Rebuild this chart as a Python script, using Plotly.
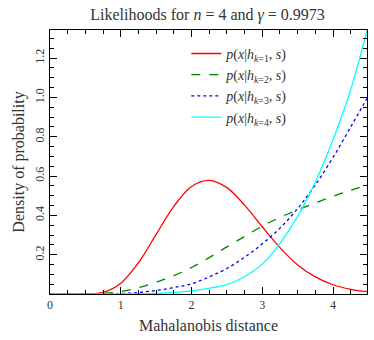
"""Likelihood curves p(x|h_k, s) for n = 4, gamma = 0.9973."""

import plotly.graph_objects as go

TITLE = "Likelihoods for <i>n</i> = 4 and <i>γ</i> = 0.9973"
FONT = "Liberation Serif"

# Mahalanobis distance sample points
X_VALUES = [0.0, 0.25, 0.5, 0.75, 1.0, 1.25, 1.5, 1.75, 2.0, 2.25,
            2.5, 2.75, 3.0, 3.25, 3.5, 3.75, 4.0, 4.25, 4.48]

K1_VALUES = [0.0, 0.0, 0.001, 0.008, 0.055, 0.159, 0.303, 0.446, 0.547, 0.578,
             0.541, 0.452, 0.342, 0.236, 0.148, 0.087, 0.047, 0.024, 0.012]
K2_VALUES = [0.0, 0.0, 0.0, 0.003, 0.012, 0.032, 0.06, 0.093, 0.135, 0.185,
             0.24, 0.293, 0.345, 0.39, 0.428, 0.463, 0.497, 0.528, 0.555]
K3_VALUES = [0.0, 0.0, 0.0, 0.0, 0.002, 0.008, 0.018, 0.033, 0.052, 0.087,
             0.13, 0.187, 0.255, 0.335, 0.435, 0.555, 0.695, 0.85, 0.995]
K4_VALUES = [0.0, 0.0, 0.0, 0.0, 0.0, 0.001, 0.003, 0.008, 0.016, 0.029,
             0.048, 0.088, 0.152, 0.258, 0.395, 0.57, 0.785, 1.04, 1.34]

SERIES = [
    ("1", K1_VALUES, "#ff0000", "solid"),
    ("2", K2_VALUES, "#008000", "dash"),
    ("3", K3_VALUES, "#0000ff", "dot"),
    ("4", K4_VALUES, "#00ffff", "solid"),
]

X_TICKS = [0, 1, 2, 3, 4]
Y_TICKS = [0.2, 0.4, 0.6, 0.8, 1.0, 1.2]
X_MAX = 4.48
Y_MAX = 1.343
TEXT_COLOR = "#333333"

fig = go.Figure()
for k, values, color, dash in SERIES:
    fig.add_trace(
        go.Scatter(
            x=X_VALUES,
            y=values,
            mode="lines",
            line=dict(color=color, width=1.3, dash=dash, shape="spline", smoothing=1.0),
            name=f"<i>p</i>(<i>x</i>|<i>h</i><sub><i>k</i>={k}</sub>, <i>s</i>)",
        )
    )

axis_common = dict(
    showline=True,
    linecolor="black",
    mirror="allticks",
    ticks="inside",
    ticklen=7,
    tickwidth=1,
    tickcolor="black",
    showgrid=False,
    zeroline=False,
    tickfont=dict(family=FONT, size=12, color=TEXT_COLOR),
)

# explicit `range` dropped the ticks, so clip the autorange instead
fig.update_xaxes(
    **axis_common,
    autorange=True,
    autorangeoptions=dict(clipmin=0, clipmax=X_MAX),
    tickvals=X_TICKS,
    minor=dict(dtick=0.25, ticks="inside", ticklen=4, tickcolor="black", showgrid=False),
    title=dict(text="Mahalanobis distance", font=dict(family=FONT, size=16, color=TEXT_COLOR), standoff=8),
)
fig.update_yaxes(
    **axis_common,
    autorange=True,
    autorangeoptions=dict(clipmin=0, clipmax=Y_MAX),
    tickvals=Y_TICKS,
    ticktext=[f"{v:.1f}" for v in Y_TICKS],
    tickangle=-90,
    minor=dict(dtick=0.05, ticks="inside", ticklen=4, tickcolor="black", showgrid=False),
    title=dict(text="Density of probability", font=dict(family=FONT, size=16, color=TEXT_COLOR), standoff=4),
)

fig.update_layout(
    width=374,
    height=340,
    plot_bgcolor="white",
    paper_bgcolor="white",
    margin=dict(l=50, r=7, t=30, b=46),
    title=dict(text=TITLE, x=0.555, xanchor="center", y=0.958, yanchor="middle",
               font=dict(family=FONT, size=16, color=TEXT_COLOR)),
    legend=dict(
        x=0.43,
        y=0.97,
        xanchor="left",
        yanchor="top",
        bgcolor="rgba(0,0,0,0)",
        font=dict(family=FONT, size=14, color=TEXT_COLOR),
        itemwidth=30,
        tracegroupgap=0,
    ),
    showlegend=True,
)

# page body margin would shift the figure by 8px
fig.write_html(
    "out.html",
    post_script="document.body.style.margin='0';",
    config={"displayModeBar": False},
)
